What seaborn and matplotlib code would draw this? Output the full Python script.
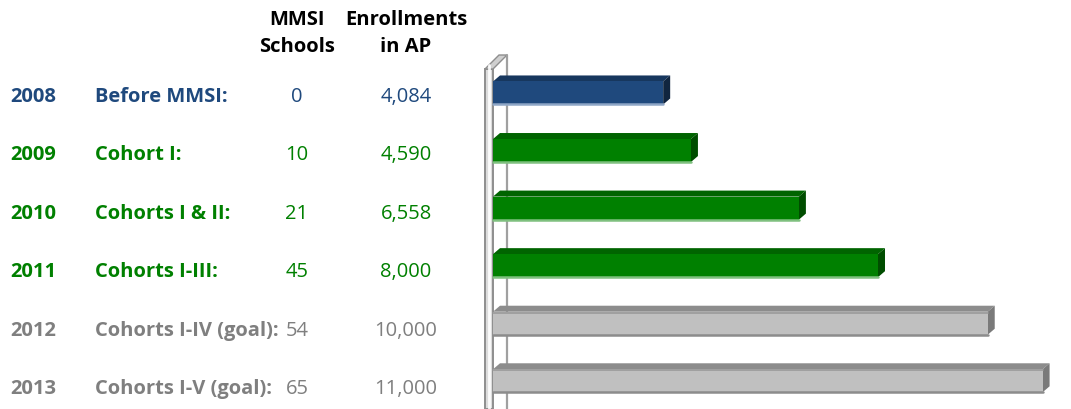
import numpy as np
import pandas as pd
import matplotlib
matplotlib.use('Agg')
import matplotlib.pyplot as plt
import seaborn as sns
from matplotlib.patches import Polygon, Rectangle
from matplotlib.lines import Line2D
from matplotlib.transforms import IdentityTransform, blended_transform_factory, ScaledTranslation

# ---- data ----
years = ['2008', '2009', '2010', '2011', '2012', '2013']
phases = ['Before MMSI:', 'Cohort I:', 'Cohorts I & II:', 'Cohorts I-III:',
          'Cohorts I-IV (goal):', 'Cohorts I-V (goal):']
schools = [0, 10, 21, 45, 54, 65]
enrollments = [4084, 4590, 6558, 8000, 10000, 11000]
status = ['baseline', 'actual', 'actual', 'actual', 'goal', 'goal']
header_schools = 'MMSI\nSchools'
header_enroll = 'Enrollments\nin AP'

# ---- style ----
sns.set_theme(style='white')
plt.rcParams['font.family'] = ['Open Sans', 'DejaVu Sans']

front = {'baseline': '#1F497D', 'actual': '#008000', 'goal': '#C0C0C0'}
topc = {'baseline': '#17375E', 'actual': '#006400', 'goal': '#8C8C8C'}
sidec = {'baseline': '#10253F', 'actual': '#004D00', 'goal': '#7A7A7A'}
lowc = {'baseline': '#8EA6C6', 'actual': '#7FC07F', 'goal': '#8C8C8C'}
textc = {'baseline': '#1F497D', 'actual': '#008000', 'goal': '#7F7F7F'}

W, H = 1071, 410
fig = plt.figure(figsize=(W / 100, H / 100), dpi=100)
ax = fig.add_axes([493 / W, 0, (W - 493) / W, (H - 50.8) / H])

df = pd.DataFrame({'year': years, 'enroll': enrollments, 'status': status})
sns.barplot(data=df, x='enroll', y='year', hue='status', palette=front,
            dodge=False, width=0.4, legend=False, ax=ax, saturation=1,
            linewidth=0, zorder=3)
bars = [p for p in ax.patches if isinstance(p, Rectangle)]
ax.set_xlim(982, 11518)
ax.set_ylim(5.49, -0.75)
ax.axis('off')

# ---- wall (decoration, pixel coords from top) ----
def px(x, y):
    return (x, H - y)

idt = IdentityTransform()
wall_front = Polygon([px(485, 410), px(485, 70), px(493, 70), px(493, 410)],
                     closed=True, facecolor='#DCDCDC', edgecolor='#8E8E8E',
                     lw=1.4, transform=idt, clip_on=False, zorder=1)
wall_top = Polygon([px(485, 70), px(493, 70), px(507, 56), px(499, 56)],
                   closed=True, facecolor='#CFCFCF', edgecolor='#8E8E8E',
                   lw=1.0, transform=idt, clip_on=False, zorder=1)
ax.add_patch(wall_front)
ax.add_patch(wall_top)
ax.add_line(Line2D([507, 507], [H - 56, 0], color='#A0A0A0', lw=1.6,
                   transform=idt, clip_on=False, zorder=1))
ax.add_line(Line2D([489, 489], [H - 66, 0], color='#FFFFFF', lw=2.0,
                   transform=idt, clip_on=False, zorder=1, alpha=0.9))

# ---- 3D faces derived from the bars ----
dx, dy = 7, 6
x_left = ax.get_xlim()[0]
for p in bars:
    w = p.get_width()
    if not w or np.isnan(w):
        continue
    yc = p.get_y() + p.get_height() / 2
    i = int(round(yc))
    st = status[i]
    X0, Yt = ax.transData.transform((x_left, p.get_y()))
    X1, Yb = ax.transData.transform((p.get_x() + w, p.get_y() + p.get_height()))
    if Yt < Yb:
        Yt, Yb = Yb, Yt
    top = Polygon([(X0, Yt), (X1, Yt), (X1 + dx, Yt + dy), (X0 + dx, Yt + dy)],
                  closed=True, facecolor=topc[st], edgecolor='none',
                  transform=idt, clip_on=False, zorder=2)
    side = Polygon([(X1, Yt), (X1 + dx, Yt + dy), (X1 + dx, Yb + dy), (X1, Yb)],
                   closed=True, facecolor=sidec[st], edgecolor='none',
                   transform=idt, clip_on=False, zorder=2)
    ax.add_patch(top)
    ax.add_patch(side)
    ax.add_line(Line2D([X0, X1], [Yb, Yb], color=lowc[st], lw=1.8,
                       transform=idt, clip_on=False, zorder=4))
    if st == 'goal':
        ax.add_line(Line2D([X0, X1], [Yt - 1, Yt - 1], color='#9A9A9A', lw=1.2,
                           transform=idt, clip_on=False, zorder=4))

# ---- text table ----
fs = 14.5
base = blended_transform_factory(fig.transFigure, ax.transData)
for i in range(len(years)):
    c = textc[status[i]]
    tr = base + ScaledTranslation(0, -(0.03 + 0.009 * i), fig.dpi_scale_trans)
    fig.text(10 / W, i, years[i], transform=tr, ha='left', va='center',
             fontsize=fs, fontweight='bold', color=c)
    fig.text(95 / W, i, phases[i], transform=tr, ha='left', va='center',
             fontsize=fs, fontweight='bold', color=c)
    fig.text(297 / W, i, str(schools[i]), transform=tr, ha='center', va='center',
             fontsize=fs, color=c)
    fig.text(406 / W, i, f'{enrollments[i]:,}', transform=tr, ha='center',
             va='center', fontsize=fs, color=c)

for k, line in enumerate(header_schools.split('\n')):
    fig.text(297 / W, 1 - (20 + 27 * k) / H, line, ha='center', va='center',
             fontsize=fs, fontweight='bold', color='black')
for k, line in enumerate(header_enroll.split('\n')):
    fig.text(406 / W, 1 - (20 + 27 * k) / H, line, ha='center', va='center',
             fontsize=fs, fontweight='bold', color='black')

fig.savefig('out.png', dpi=100, facecolor='white')
